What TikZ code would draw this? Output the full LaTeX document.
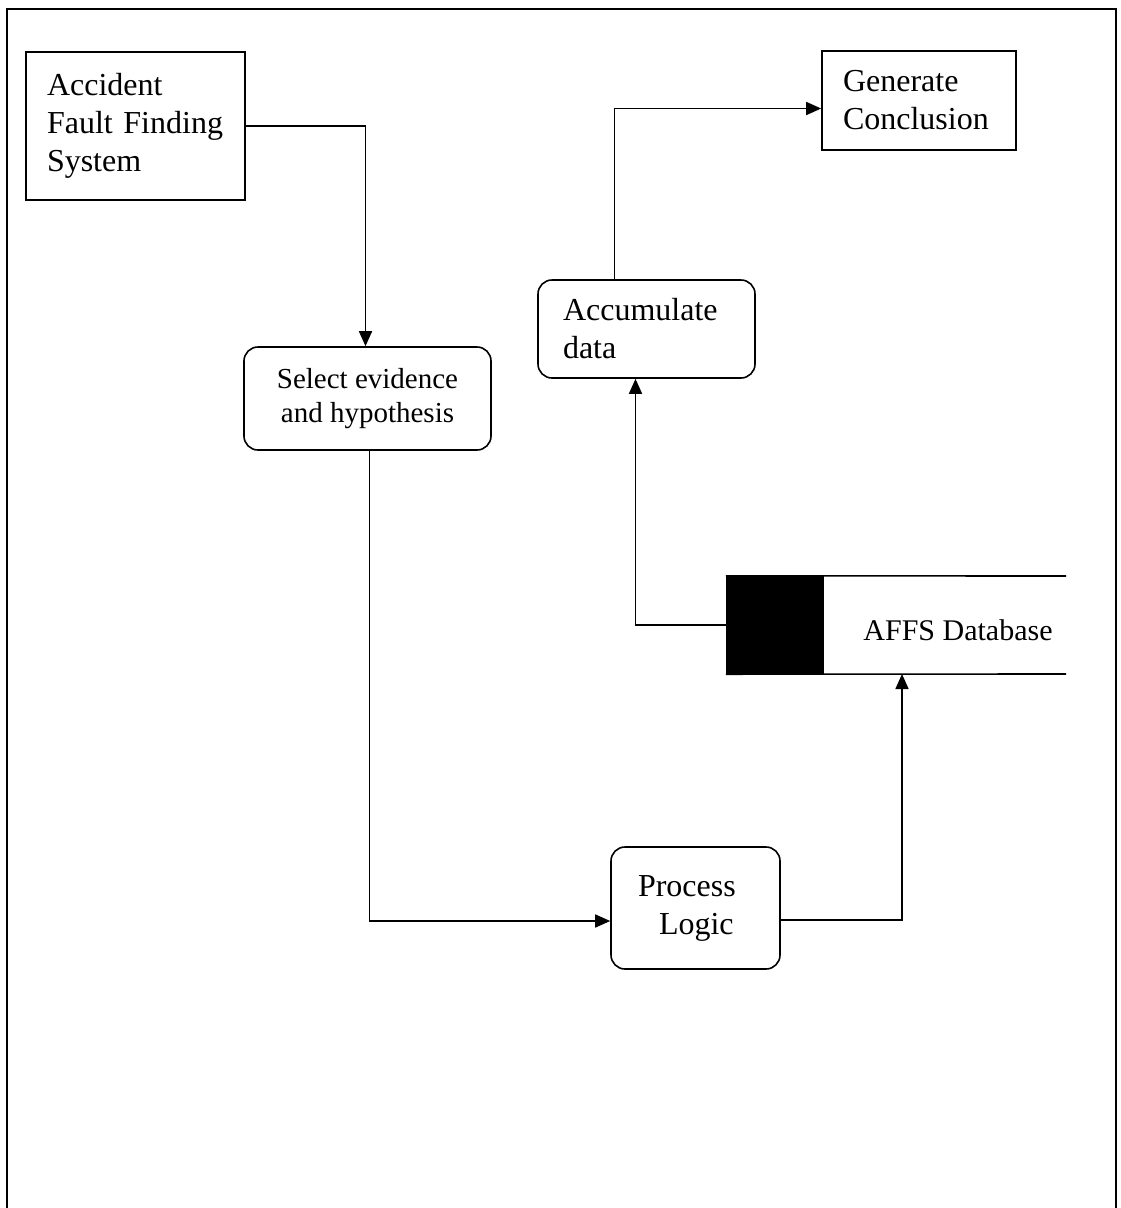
\documentclass[tikz,border=0pt]{standalone}
\usepackage{fontspec}
\setmainfont{Liberation Serif}
\usetikzlibrary{arrows.meta}
\begin{document}
\begin{tikzpicture}[x=1pt,y=1pt,
  every node/.style={font=\fontsize{32}{38}\selectfont},
  sqbox/.style={draw,line width=1.6pt,inner ysep=0pt,align=left},
  rbox/.style={draw,line width=1.6pt,rounded corners=14pt,inner ysep=0pt},
  conn/.style={line width=1.6pt},
  arr/.style={conn,-{Triangle[length=15pt,width=13pt]}}]
\useasboundingbox (0,0) rectangle (1120,-1208);
\draw[line width=2pt] (7,-1208) -- (7,-9) -- (1116,-9) -- (1116,-1208);
% nodes
\node[sqbox,minimum width=219,minimum height=148,text width=177,inner xsep=21] (affs) at (135.5,-126) {Accident\\Fault Finding\\System};
\node[sqbox,minimum width=194,minimum height=99,text width=152,inner xsep=21] (gen) at (919,-100.5) {Generate\\Conclusion};
\node[rbox,minimum width=217,minimum height=98,text width=167,inner xsep=25,align=left] (acc) at (646.5,-329) {Accumulate\\data};
\node[rbox,minimum width=247,minimum height=103,align=center,font=\fontsize{29}{34}\selectfont] (sel) at (367.5,-398.5) {Select evidence\\and hypothesis};
\node[rbox,minimum width=169,minimum height=122,text width=115,inner xsep=27,align=left] (proc) at (695.5,-908) {Process\\\hspace*{21pt}Logic\\[8pt]};
\node[fill=black,minimum width=98,minimum height=98,inner sep=0pt] (dbk) at (775,-625) {};
\node[font=\fontsize{30}{36}\selectfont] (dbt) at (958,-630) {AFFS Database};
\draw[conn] (dbk.north west) -- (1066,-576);
\draw[conn] (dbk.south west) -- (1066,-674);
\coordinate (dbin) at (902,-674);
% connectors
\draw[arr] (affs.east) -| ([xshift=-2]sel.north);
\draw[arr] ([xshift=2]sel.south) |- ([yshift=-13]proc.west);
\draw[arr] ([yshift=-12]proc.east) -| (dbin);
\draw[arr] (dbk.west) -| ([xshift=-11]acc.south);
\draw[arr] ([xshift=-32]acc.north) |- ([yshift=-8]gen.west);
\end{tikzpicture}
\end{document}
